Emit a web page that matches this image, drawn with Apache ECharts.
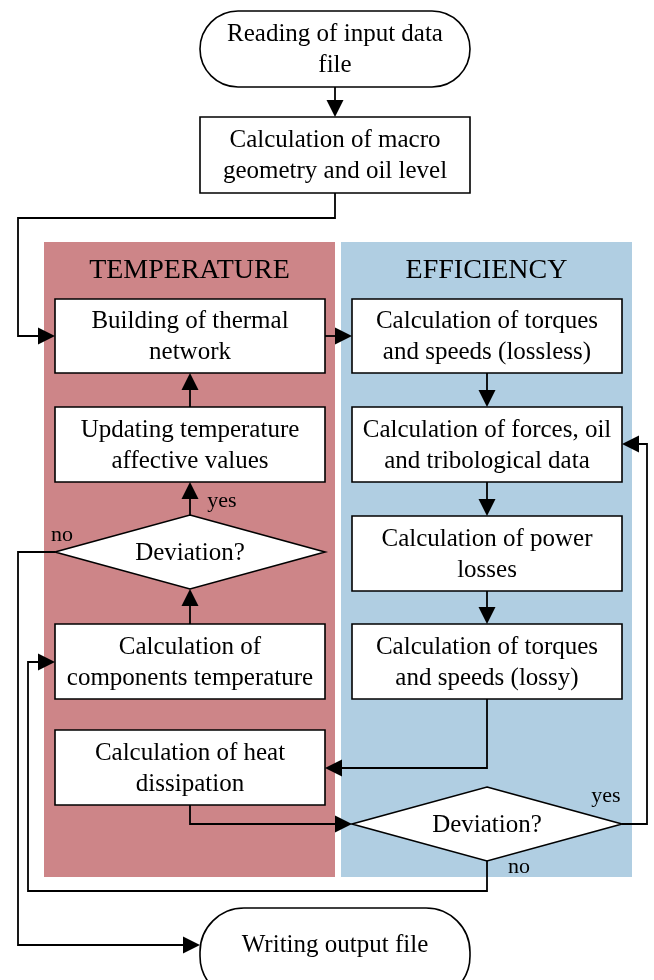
<!DOCTYPE html>
<html>
<head>
<meta charset="utf-8">
<script src="https://cdn.jsdelivr.net/npm/echarts@6/dist/echarts.min.js"></script>
<style>
  html, body { margin: 0; padding: 0; background: #fff; }
  #chart { width: 654px; height: 980px; }
</style>
</head>
<body>
<div id="chart"></div>
<script>
// flowchart content
const nodeLabels = [
    'Reading of input data\nfile',
    'Calculation of macro\ngeometry and oil level',
    'Building of thermal\nnetwork',
    'Updating temperature\naffective values',
    'Deviation?',
    'Calculation of\ncomponents temperature',
    'Calculation of heat\ndissipation',
    'Calculation of torques\nand speeds (lossless)',
    'Calculation of forces, oil\nand tribological data',
    'Calculation of power\nlosses',
    'Calculation of torques\nand speeds (lossy)',
    'Deviation?',
    'Writing output file'
];
const nodeShapes = ['terminal', 'rect', 'rect', 'rect', 'diamond', 'rect', 'rect',
    'rect', 'rect', 'rect', 'rect', 'diamond', 'terminal'];

const laneTitles = ['TEMPERATURE', 'EFFICIENCY'];
const laneColors = ['#cd8588', '#b0cee2'];

const edgeLabels = ['yes', 'no', 'yes', 'no'];

// layout (x1, y1, x2, y2 in page units)
const nodeBoxes = [
    [200, 11, 470, 87],
    [200, 117, 470, 193],
    [55, 299, 325, 373],
    [55, 407, 325, 482],
    [55, 515, 325, 589],
    [55, 624, 325, 699],
    [55, 730, 325, 805],
    [352, 299, 622, 373],
    [352, 407, 622, 482],
    [352, 516, 622, 591],
    [352, 624, 622, 699],
    [352, 787, 622, 861],
    [200, 908, 470, 1000]
];
const laneBoxes = [
    [44, 242, 335, 877],
    [341, 242, 632, 877]
];
const edgePaths = [
    [[335, 87], [335, 117]],
    [[335, 193], [335, 218], [18, 218], [18, 336], [55, 336]],
    [[325, 336], [352, 336]],
    [[487, 373], [487, 407]],
    [[487, 482], [487, 516]],
    [[487, 591], [487, 624]],
    [[190, 407], [190, 373]],
    [[190, 515], [190, 482]],
    [[190, 624], [190, 589]],
    [[487, 699], [487, 768], [325, 768]],
    [[190, 805], [190, 824], [352, 824]],
    [[622, 824], [647, 824], [647, 444], [622, 444]],
    [[487, 861], [487, 891], [28, 891], [28, 662], [55, 662]],
    [[55, 552], [18, 552], [18, 945], [200, 945]]
];
const edgeLabelPos = [[222, 501], [62, 535], [606, 796], [519, 867]];

const FONT = 'Liberation Serif';

let myChart = echarts.init(document.getElementById('chart'));

function toPx(api, p){
    return api.coord(p);
}

function renderLane(params, api){
    const b = laneBoxes[params.dataIndex];
    const p1 = toPx(api, [b[0], b[1]]), p2 = toPx(api, [b[2], b[3]]);
    return {
        type: 'group',
        children: [
            {
                type: 'rect',
                shape: {x: p1[0], y: p1[1], width: p2[0] - p1[0], height: p2[1] - p1[1]},
                style: {fill: laneColors[params.dataIndex]}
            },
            {
                type: 'text',
                style: {
                    x: (p1[0] + p2[0]) / 2, y: p1[1] + 29,
                    text: laneTitles[params.dataIndex],
                    align: 'center', verticalAlign: 'middle',
                    font: '28px "' + FONT + '"', fill: '#000'
                }
            }
        ]
    };
}

function renderNode(params, api){
    const i = params.dataIndex;
    const b = nodeBoxes[i];
    const p1 = toPx(api, [b[0], b[1]]), p2 = toPx(api, [b[2], b[3]]);
    const x = p1[0], y = p1[1], w = p2[0] - p1[0], h = p2[1] - p1[1];
    const lineStyle = {fill: '#fff', stroke: '#000', lineWidth: 1.6};
    let shape;
    if(nodeShapes[i] === 'terminal'){
        shape = {type: 'rect', shape: {x: x, y: y, width: w, height: h, r: Math.min(h / 2, 44)}, style: lineStyle};
    }else if(nodeShapes[i] === 'diamond'){
        shape = {
            type: 'polygon',
            shape: {points: [[x + w / 2, y], [x + w, y + h / 2], [x + w / 2, y + h], [x, y + h / 2]]},
            style: lineStyle
        };
    }else{
        shape = {type: 'rect', shape: {x: x, y: y, width: w, height: h}, style: lineStyle};
    }
    // bottom terminal is cut by the page, text sits where the visible middle is
    let ty = y + h / 2 + 1;
    if(i === nodeBoxes.length - 1) ty = y + 37;
    return {
        type: 'group',
        children: [
            shape,
            {
                type: 'text',
                style: {
                    x: x + w / 2, y: ty, text: nodeLabels[i],
                    align: 'center', verticalAlign: 'middle',
                    font: '25px "' + FONT + '"', lineHeight: 31, fill: '#000'
                }
            }
        ]
    };
}

function renderEdge(params, api){
    const pts = edgePaths[params.dataIndex].map(p => toPx(api, p));
    const n = pts.length;
    const end = pts[n - 1], prev = pts[n - 2];
    const dx = end[0] - prev[0], dy = end[1] - prev[1];
    const len = Math.sqrt(dx * dx + dy * dy);
    const ux = dx / len, uy = dy / len;
    const headLen = 17, headHalf = 8.5;
    const base = [end[0] - ux * headLen, end[1] - uy * headLen];
    const linePts = pts.slice(0, n - 1).concat([base]);
    return {
        type: 'group',
        children: [
            {
                type: 'polyline',
                shape: {points: linePts},
                style: {stroke: '#000', lineWidth: 1.8, fill: null}
            },
            {
                type: 'polygon',
                shape: {points: [end,
                    [base[0] - uy * headHalf, base[1] + ux * headHalf],
                    [base[0] + uy * headHalf, base[1] - ux * headHalf]]},
                style: {fill: '#000'}
            }
        ]
    };
}

function renderEdgeLabel(params, api){
    const p = toPx(api, edgeLabelPos[params.dataIndex]);
    return {
        type: 'text',
        style: {
            x: p[0], y: p[1], text: edgeLabels[params.dataIndex],
            align: 'center', verticalAlign: 'middle',
            font: '22px "' + FONT + '"', fill: '#000'
        }
    };
}

let option = {
    animation: false,
    grid: {left: 0, right: 0, top: 0, bottom: 0},
    xAxis: {type: 'value', min: 0, max: 654, show: false},
    yAxis: {type: 'value', min: 0, max: 980, inverse: true, show: false},
    series: [
        {
            type: 'custom', renderItem: renderLane, z: 1, clip: false,
            data: laneTitles.map((t, i) => [i])
        },
        {
            type: 'custom', renderItem: renderEdge, z: 2, clip: false,
            data: edgePaths.map((p, i) => [i])
        },
        {
            type: 'custom', renderItem: renderNode, z: 3, clip: false,
            data: nodeLabels.map((t, i) => [i])
        },
        {
            type: 'custom', renderItem: renderEdgeLabel, z: 4, clip: false,
            data: edgeLabels.map((t, i) => [i])
        }
    ]
};

myChart.setOption(option);
</script>
</body>
</html>
